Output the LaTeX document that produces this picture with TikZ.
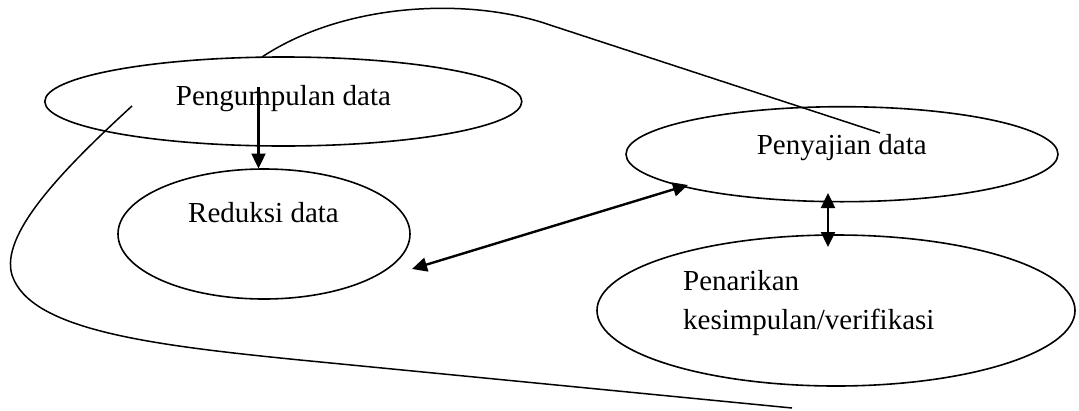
\documentclass[tikz,border=0pt]{standalone}
\usepackage{fontspec}
\setmainfont{Liberation Serif}
\usetikzlibrary{arrows.meta,shapes.geometric,calc}
\begin{document}
\begin{tikzpicture}[x=1pt,y=-1pt,
  oval/.style={draw, ellipse, line width=1.6pt, inner sep=0pt},
  lbl/.style={anchor=base west, inner sep=0pt, font=\fontsize{29}{35}\selectfont},
  conn/.style={line width=2.4pt, -{Triangle[length=15pt,width=14pt]}},
  dconn/.style={line width=2.4pt, {Triangle[length=15pt,width=14pt]}-{Triangle[length=15pt,width=14pt]}},
  loopline/.style={line width=1.5pt}]
\useasboundingbox (0,0) rectangle (1079,410);
% ellipses
\node[oval, minimum width=477pt, minimum height=89pt] (e1) at (283.3,101.5) {};
\node[oval, minimum width=292pt, minimum height=130pt] (e2) at (264,234) {};
\node[oval, minimum width=432pt, minimum height=95pt] (e3) at (842,154.2) {};
\node[oval, minimum width=478pt, minimum height=151pt] (e4) at (836,310.5) {};
% texts
\node[lbl] (t1) at (175.7,105) {Pengumpulan data};
\node[lbl] (t2) at (188,222.7) {Reduksi data};
\node[lbl] (t3) at (756.6,154) {Penyajian data};
\node[lbl] (t4a) at (683,290) {Penarikan};
\node[lbl] (t4b) at (683,329) {kesimpulan/verifikasi};
% connector end points
\coordinate (v1) at (258.5,87);
\coordinate (v2) at (258.5,168.5);
\coordinate (d1) at (412,269);
\coordinate (d2) at (688,185);
\coordinate (w1) at (828,193);
\coordinate (w2) at (828,247);
\coordinate (c1) at (262,57);
\coordinate (c2) at (880,133);
\coordinate (b1) at (132,106);
\coordinate (b2) at (792,408);
% arrows
\draw[conn] (v1) -- (v2);
\draw[dconn] (d1) -- (d2);
\draw[dconn] (w1) -- (w2);
% top curve
\draw[loopline] (c1) .. controls (345,2) and (470,-3) .. (550,25) -- (c2);
% big loop
\draw[loopline] (b1) .. controls (60,172) and (0,235) .. (12,275)
  .. controls (30,330) and (150,345) .. (300,360) -- (b2);
\end{tikzpicture}
\end{document}
